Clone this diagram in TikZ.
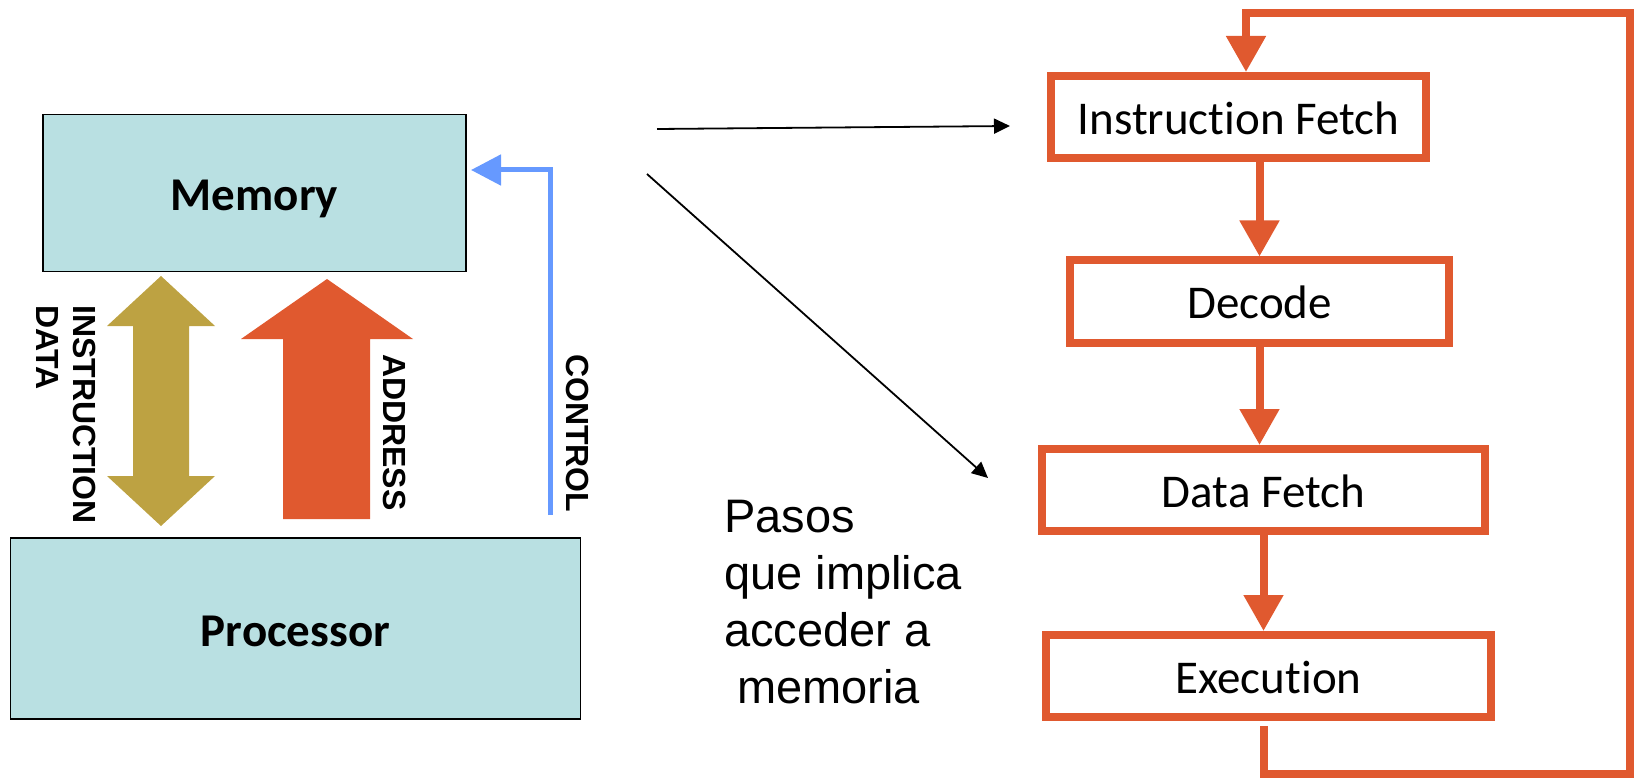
\documentclass[tikz,border=0pt]{standalone}
\usepackage{fontspec}
\usetikzlibrary{arrows.meta}
\newfontfamily\calibfont[RawFeature={-liga}]{Carlito}
\newfontfamily\arialfont{Liberation Sans}
\definecolor{boxfill}{RGB}{185,224,226}
\definecolor{goldbus}{RGB}{189,162,66}
\definecolor{orangebus}{RGB}{224,89,47}
\definecolor{ctrlblue}{RGB}{102,153,255}

\begin{document}
\begin{tikzpicture}[x=1pt,y=-1pt,
  unit/.style={draw=black, line width=1.8pt, fill=boxfill, inner sep=0pt,
    font=\calibfont\bfseries\fontsize{47}{56}\selectfont, text height=36pt, text depth=0pt},
  stage/.style={draw=orangebus, line width=8pt, fill=white, inner sep=0pt,
    minimum height=82pt, font=\calibfont\fontsize{47}{56}\selectfont,
    text height=35pt, text depth=0pt},
  flow/.style={draw=orangebus, line width=8pt, line join=miter,
    -{Triangle[length=36pt,width=38pt]}},
  buslabel/.style={font=\arialfont\bfseries\fontsize{32}{38}\selectfont,
    rotate=-90, inner sep=0pt, anchor=west},
  pointer/.style={draw=black, line width=1.8pt, -{Triangle[length=16pt,width=15pt]}},
  ctrl/.style={draw=ctrlblue, line width=5pt, -{Triangle[length=30pt,width=30pt]}}
]
\useasboundingbox (0,0) rectangle (1634,778);

% memory and processor blocks
\node[unit, minimum width=423pt, minimum height=157pt] (mem) at (254.5,193) {Memory};
\node[unit, minimum width=570pt, minimum height=181pt] (proc) at (295.5,628.5) {Processor};

% instruction/data bus (two-way) and address bus (one-way)
\fill[goldbus] (161,276) -- (215,326) -- (189,326) -- (189,476) -- (215,476)
  -- (161,526) -- (107,476) -- (133,476) -- (133,326) -- (107,326) -- cycle;
\fill[orangebus] (327,279) -- (413,339) -- (370,339) -- (370,519)
  -- (283,519) -- (283,339) -- (241,339) -- cycle;

% control line
\coordinate (ctrlfoot) at (550,515);
\coordinate (ctrltip) at (471,170);
\draw[ctrl] (ctrlfoot) |- (ctrltip);

% bus labels
\node[buslabel] (lbinstr) at (85,305) {INSTRUCTION};
\node[buslabel] (lbdata) at (48,305) {DATA};
\node[buslabel] (lbaddr) at (395,354) {ADDRESS};
\node[buslabel] (lbctrl) at (578,354) {CONTROL};

% instruction cycle
\node[stage, minimum width=375pt] (ifetch) at (1238.5,117) {Instruction Fetch};
\node[stage, minimum width=379pt] (decode) at (1259.5,301.5) {Decode};
\node[stage, minimum width=443pt] (dfetch) at (1263.5,490) {Data Fetch};
\node[stage, minimum width=445pt] (exec) at (1268.5,676) {Execution};

\draw[flow] (ifetch.south -| decode.north) -- (decode.north);
\draw[flow] (decode.south) -- (decode.south |- dfetch.north);
\draw[flow] (dfetch.south) -- (dfetch.south |- exec.north);

% loop back from execution to instruction fetch
\coordinate (loopout) at (1264,726);
\coordinate (loopcorner) at (1630,773.5);
\coordinate (loopin) at (1246,13);
\draw[flow] (loopout) |- (loopcorner) |- (loopin) -- (loopin |- ifetch.north);

% steps that access memory
\coordinate (p1s) at (657,129);
\coordinate (p1e) at (1010,126);
\coordinate (p2s) at (647,174);
\coordinate (p2e) at (988,478);
\draw[pointer] (p1s) -- (p1e);
\draw[pointer] (p2s) -- (p2e);

% the base anchor of this node sits on its last line
\node[anchor=base west, align=left, inner sep=0pt,
  font=\arialfont\fontsize{47}{57}\selectfont] (note) at (724,703)
  {Pasos\\que implica\\acceder a\\\hspace*{13pt}memoria};
\end{tikzpicture}
\end{document}
